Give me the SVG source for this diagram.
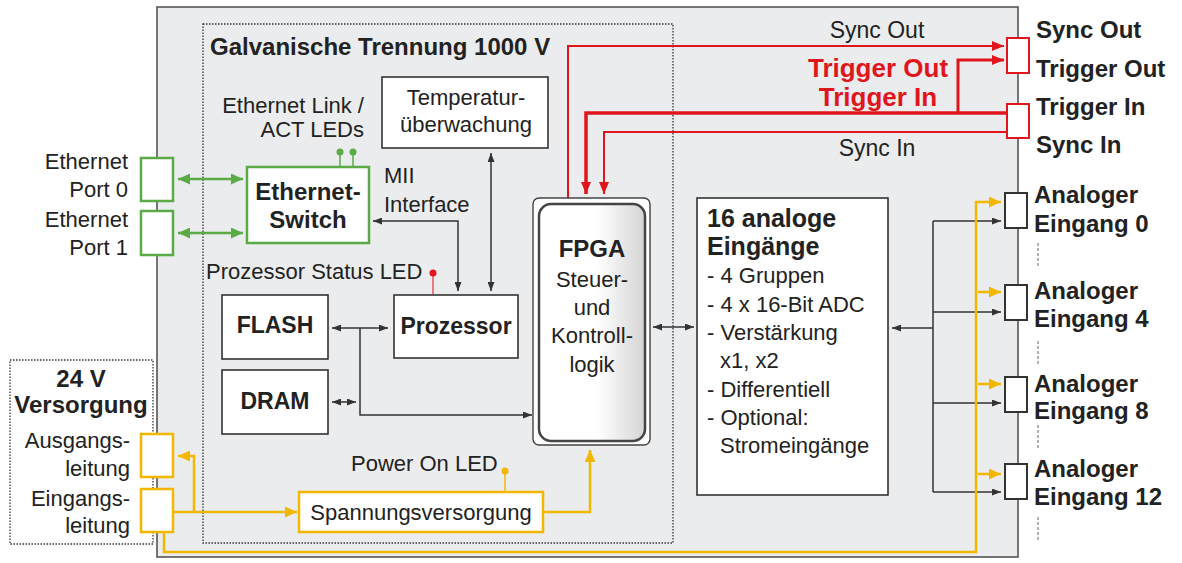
<svg xmlns="http://www.w3.org/2000/svg" width="1182" height="563" viewBox="0 0 1182 563">
<style>
.t{font-family:"Liberation Sans",Arial,sans-serif;font-size:22px;fill:#222}
.b{font-weight:bold;font-size:24px}
.m{text-anchor:middle}
.e{text-anchor:end}
.box{fill:#fff;stroke:#333;stroke-width:1.6}
.dk{stroke:#333;stroke-width:1.5;fill:none}
.gr{stroke:#5aab46;stroke-width:2.5;fill:none}
.yl{stroke:#f2b700;stroke-width:2.5;fill:none}
.rd{stroke:#e1161c;fill:none}
.dot{stroke:#333;stroke-width:1.3;fill:none;stroke-dasharray:1.5 1.5}
</style>
<defs>
<marker id="ad" viewBox="0 0 9 7" refX="9" refY="3.5" markerWidth="9" markerHeight="7" markerUnits="userSpaceOnUse" orient="auto-start-reverse" preserveAspectRatio="none"><path d="M0 0L9 3.5L0 7z" fill="#333"/></marker>
<marker id="ag" viewBox="0 0 12 11" refX="12" refY="5.5" markerWidth="12" markerHeight="11" markerUnits="userSpaceOnUse" orient="auto-start-reverse" preserveAspectRatio="none"><path d="M0 0L12 5.5L0 11z" fill="#5aab46"/></marker>
<marker id="ay" viewBox="0 0 12 11" refX="12" refY="5.5" markerWidth="12" markerHeight="11" markerUnits="userSpaceOnUse" orient="auto-start-reverse" preserveAspectRatio="none"><path d="M0 0L12 5.5L0 11z" fill="#f2b700"/></marker>
<marker id="ar" viewBox="0 0 12 10" refX="12" refY="5" markerWidth="12" markerHeight="10" markerUnits="userSpaceOnUse" orient="auto-start-reverse" preserveAspectRatio="none"><path d="M0 0L12 5L0 10z" fill="#e1161c"/></marker>
<linearGradient id="fg" x1="0" y1="0" x2="1" y2="0">
<stop offset="0" stop-color="#fff"/><stop offset="0.55" stop-color="#fff"/><stop offset="1" stop-color="#d4d4d4"/>
</linearGradient>
</defs>

<!-- housing -->
<rect x="157" y="7" width="861" height="550" fill="#ebeced" stroke="#555" stroke-width="1.6"/>
<rect class="dot" x="203" y="24" width="470" height="519"/>
<text class="t b" x="210" y="55">Galvanische Trennung 1000 V</text>

<g id="supply-group">
<rect class="dot" x="10" y="360" width="143" height="184" fill="#fff"/>
<text class="t b m" x="81" y="387">24 V</text>
<text class="t b m" x="81" y="413">Versorgung</text>
<text class="t e" x="130" y="448">Ausgangs-</text>
<text class="t e" x="130" y="476">leitung</text>
<text class="t e" x="130" y="506">Eingangs-</text>
<text class="t e" x="130" y="533">leitung</text>
</g>

<!-- connectors -->
<g id="connectors">
<!-- green -->
<path class="gr" d="M178 179H243" marker-start="url(#ag)" marker-end="url(#ag)"/>
<path class="gr" d="M178 233H243" marker-start="url(#ag)" marker-end="url(#ag)"/>
<path stroke="#5aab46" stroke-width="1.5" d="M340 152V167M353 152V167"/>
<circle cx="340" cy="152" r="3.5" fill="#5aab46"/>
<circle cx="353" cy="152" r="3.5" fill="#5aab46"/>
<!-- dark -->
<path class="dk" d="M373 221H458V291" marker-start="url(#ad)" marker-end="url(#ad)"/>
<path class="dk" d="M491 153V291" marker-start="url(#ad)" marker-end="url(#ad)"/>
<path class="dk" d="M332 328H388" marker-start="url(#ad)" marker-end="url(#ad)"/>
<path class="dk" d="M360 328V415H532" marker-end="url(#ad)"/>
<path class="dk" d="M332 402H356" marker-start="url(#ad)" marker-end="url(#ad)"/>
<path class="dk" d="M653 327H694" marker-start="url(#ad)" marker-end="url(#ad)"/>
<path class="dk" d="M933 221V492"/>
<path class="dk" d="M933 221H1001" marker-end="url(#ad)"/>
<path class="dk" d="M933 312H1001" marker-end="url(#ad)"/>
<path class="dk" d="M933 403H1001" marker-end="url(#ad)"/>
<path class="dk" d="M933 492H1001" marker-end="url(#ad)"/>
<path class="dk" d="M933 328H892" marker-end="url(#ad)"/>
<!-- red -->
<path class="rd" stroke-width="2" d="M568 198V46H1004" marker-end="url(#ar)"/>
<path class="rd" stroke-width="3" d="M958 114V60H1004" marker-end="url(#ar)"/>
<path class="rd" stroke-width="3.5" d="M1007 113H586V194" marker-end="url(#ar)"/>
<path class="rd" stroke-width="2" d="M1007 132H604V194" marker-end="url(#ar)"/>
<path stroke="#e8555a" stroke-width="1.5" d="M433 273V294"/>
<circle cx="433" cy="273" r="3.5" fill="#e1161c"/>
<!-- yellow -->
<path class="yl" d="M173 512H297" marker-end="url(#ay)"/>
<path class="yl" d="M194 512V456H178" marker-end="url(#ay)"/>
<path class="yl" d="M543 512H590V450" marker-end="url(#ay)"/>
<path class="yl" d="M164 532V552H976V202H1001" marker-end="url(#ay)"/>
<path class="yl" d="M978 292H1001" marker-end="url(#ay)"/>
<path class="yl" d="M978 384H1001" marker-end="url(#ay)"/>
<path class="yl" d="M978 474H1001" marker-end="url(#ay)"/>
<path stroke="#f2b700" stroke-width="1.5" d="M505 471V492"/>
<circle cx="505" cy="471" r="3.5" fill="#f2b700"/>
</g>

<!-- labels -->
<text class="t e" x="364" y="113">Ethernet Link /</text>
<text class="t e" x="364" y="137">ACT LEDs</text>
<text class="t" x="384" y="183">MII</text>
<text class="t" x="384" y="212">Interface</text>
<text class="t" x="206" y="279">Prozessor Status LED</text>
<text class="t" x="351" y="471">Power On LED</text>
<text class="t m" x="877" y="38" style="font-size:23px">Sync Out</text>
<text class="t m" x="877" y="156" style="font-size:23px">Sync In</text>
<text class="t b m" x="878" y="77" style="fill:#e1161c;font-size:26px">Trigger Out</text>
<text class="t b m" x="878" y="106" style="fill:#e1161c;font-size:26px">Trigger In</text>

<g id="eth-port0">
<rect x="141" y="158" width="32" height="43" fill="#fff" stroke="#5aab46" stroke-width="2.5"/>
<text class="t e" x="128" y="169">Ethernet</text>
<text class="t e" x="128" y="197">Port 0</text>
</g>
<g id="eth-port1">
<rect x="141" y="211" width="32" height="44" fill="#fff" stroke="#5aab46" stroke-width="2.5"/>
<text class="t e" x="128" y="227">Ethernet</text>
<text class="t e" x="128" y="255">Port 1</text>
</g>
<g id="out-line">
<rect x="141" y="434" width="32" height="43" fill="#fff" stroke="#f2b700" stroke-width="2.5"/>
</g>
<g id="in-line">
<rect x="141" y="489" width="32" height="43" fill="#fff" stroke="#f2b700" stroke-width="2.5"/>
</g>

<g id="temp">
<rect class="box" x="382" y="77" width="166" height="71"/>
<text class="t m" x="466" y="105">Temperatur-</text>
<text class="t m" x="466" y="132">überwachung</text>
</g>
<g id="switch">
<rect x="247" y="167" width="122" height="76" fill="#fff" stroke="#5aab46" stroke-width="2.5"/>
<text class="t b m" x="308" y="200">Ethernet-</text>
<text class="t b m" x="308" y="228">Switch</text>
</g>
<g id="flash">
<rect class="box" x="222" y="295" width="106" height="64"/>
<text class="t b m" x="275" y="333" style="font-size:23px">FLASH</text>
</g>
<g id="dram">
<rect class="box" x="222" y="370" width="106" height="64"/>
<text class="t b m" x="275" y="409" style="font-size:23px">DRAM</text>
</g>
<g id="cpu">
<rect class="box" x="394" y="295" width="124" height="63"/>
<text class="t b m" x="456" y="334" style="font-size:23px">Prozessor</text>
</g>
<g id="fpga">
<rect x="533" y="198" width="117" height="247" rx="6" fill="#fff" stroke="#444" stroke-width="1.4"/>
<rect x="539" y="204" width="106" height="237" rx="12" fill="url(#fg)" stroke="#444" stroke-width="2.5"/>
<text class="t b m" x="592" y="257">FPGA</text>
<text class="t m" x="592" y="287">Steuer-</text>
<text class="t m" x="592" y="315">und</text>
<text class="t m" x="592" y="343">Kontroll-</text>
<text class="t m" x="592" y="372">logik</text>
</g>
<g id="analog">
<rect class="box" x="697" y="198" width="191" height="297"/>
<text class="t b" x="707" y="227" style="font-size:25px">16 analoge</text>
<text class="t b" x="707" y="255" style="font-size:25px">Eingänge</text>
<text class="t" x="707" y="283">- 4 Gruppen</text>
<text class="t" x="707" y="312">- 4 x 16-Bit ADC</text>
<text class="t" x="707" y="340">- Verstärkung</text>
<text class="t" x="720" y="368">x1, x2</text>
<text class="t" x="707" y="397">- Differentiell</text>
<text class="t" x="707" y="425">- Optional:</text>
<text class="t" x="720" y="453">Stromeingänge</text>
</g>
<g id="psu">
<rect x="299" y="492" width="244" height="40" fill="#fff" stroke="#f2b700" stroke-width="2.5"/>
<text class="t m" x="421" y="520">Spannungsversorgung</text>
</g>

<g id="sync-out-port">
<rect x="1007" y="38" width="22" height="35" fill="#fff" stroke="#e1161c" stroke-width="2"/>
<text class="t b" x="1036" y="38">Sync Out</text>
<text class="t b" x="1036" y="77">Trigger Out</text>
</g>
<g id="sync-in-port">
<rect x="1007" y="104" width="22" height="34" fill="#fff" stroke="#e1161c" stroke-width="2"/>
<text class="t b" x="1036" y="115">Trigger In</text>
<text class="t b" x="1036" y="153">Sync In</text>
</g>
<g id="ain0">
<rect x="1005" y="193" width="22" height="35" fill="#fff" stroke="#333" stroke-width="2"/>
<text class="t b" x="1034" y="203">Analoger</text>
<text class="t b" x="1034" y="232">Eingang 0</text>
</g>
<g id="ain4">
<rect x="1005" y="285" width="22" height="35" fill="#fff" stroke="#333" stroke-width="2"/>
<text class="t b" x="1034" y="299">Analoger</text>
<text class="t b" x="1034" y="327">Eingang 4</text>
</g>
<g id="ain8">
<rect x="1005" y="377" width="22" height="35" fill="#fff" stroke="#333" stroke-width="2"/>
<text class="t b" x="1034" y="392">Analoger</text>
<text class="t b" x="1034" y="419">Eingang 8</text>
</g>
<g id="ain12">
<rect x="1005" y="464" width="22" height="35" fill="#fff" stroke="#333" stroke-width="2"/>
<text class="t b" x="1034" y="477">Analoger</text>
<text class="t b" x="1034" y="505">Eingang 12</text>
</g>
<path stroke="#888" stroke-width="1.3" stroke-dasharray="3 2" d="M1038 243V267M1038 341V365M1038 425V449M1038 517V540"/>
</svg>
